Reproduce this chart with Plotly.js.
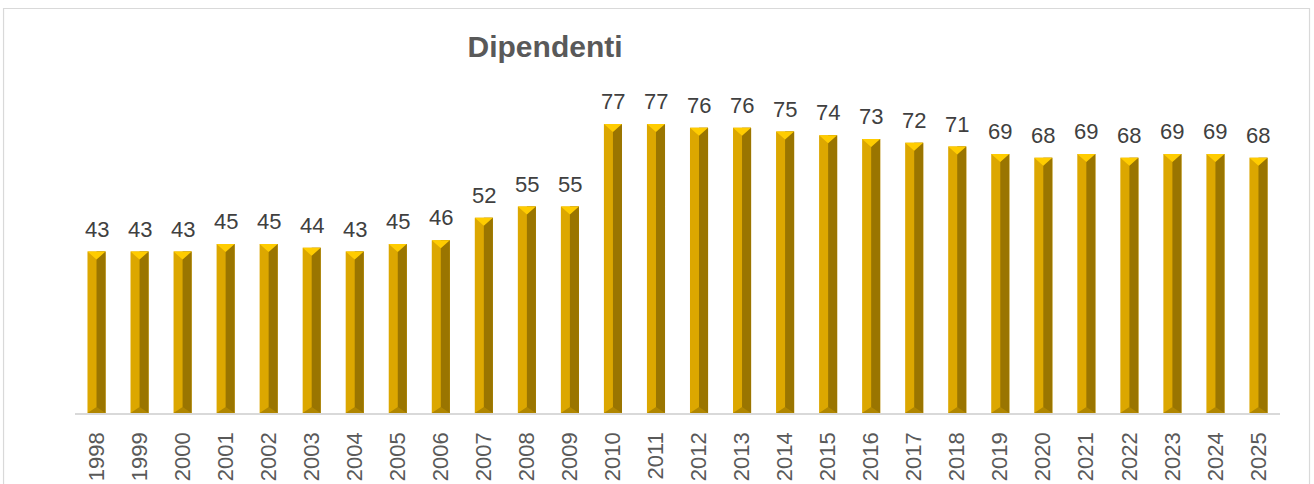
<!DOCTYPE html>
<html>
<head>
<meta charset="utf-8">
<script src="https://cdn.plot.ly/plotly-3.0.1.min.js"></script>
<style>
  html, body { margin: 0; padding: 0; background: #fff; }
  #plotArea { width: 1314px; height: 484px; }
</style>
</head>
<body>
<div id="plotArea"></div>
<script>
var years = ["1998", "1999", "2000", "2001", "2002", "2003", "2004", "2005", "2006", "2007",
  "2008", "2009", "2010", "2011", "2012", "2013", "2014", "2015", "2016", "2017",
  "2018", "2019", "2020", "2021", "2022", "2023", "2024", "2025"];
var dipendenti = [43, 43, 43, 45, 45, 44, 43, 45, 46, 52,
  55, 55, 77, 77, 76, 76, 75, 74, 73, 72,
  71, 69, 68, 69, 68, 69, 69, 68];

// bevel look: half width of a bar (x units) and depth of top/bottom facets (y units)
var half = 0.21;
var topDepth = 2.1;
var bottomDepth = 1.6;

var idx = years.map(function (y, i) {
  return i;
});

// one polygon per bar, separated by nulls so fill "toself" closes each on its own
function facet(build) {
  var xs = [], ys = [];
  idx.forEach(function (i) {
    var pts = build(i, dipendenti[i]);
    pts.forEach(function (p) {
      xs.push(p[0]);
      ys.push(p[1]);
    });
    xs.push(null);
    ys.push(null);
  });
  return { x: xs, y: ys };
}

function polyTrace(pts, color) {
  return {
    x: pts.x,
    y: pts.y,
    type: "scatter",
    mode: "lines",
    fill: "toself",
    fillcolor: color,
    line: { width: 0, color: color },
    hoverinfo: "skip",
    showlegend: false,
  };
}

var base = {
  x: idx,
  y: dipendenti,
  type: "bar",
  width: half * 2,
  marker: { color: "#DCA700", line: { width: 0 } },
  hoverinfo: "x+y",
  showlegend: false,
};

var rightFace = polyTrace(facet(function (c, v) {
  return [[c, 0], [c + half, 0], [c + half, v], [c, v]];
}), "#9A7500");

var bottomFacet = polyTrace(facet(function (c, v) {
  return [[c - half, 0], [c + half, 0], [c, bottomDepth]];
}), "#B08600");

var topFacet = polyTrace(facet(function (c, v) {
  return [[c - half, v], [c + half, v], [c, v - topDepth]];
}), "#FFCC00");

var labels = idx.map(function (i) {
  return {
    x: i,
    y: dipendenti[i],
    text: String(dipendenti[i]),
    showarrow: false,
    xanchor: "center",
    yanchor: "bottom",
    yshift: 8,
    font: { family: "Liberation Sans, Arial, sans-serif", size: 22, color: "#404040" },
  };
});

var layout = {
  width: 1314,
  height: 484,
  margin: { l: 75, r: 34, t: 94, b: 71 },
  paper_bgcolor: "#ffffff",
  plot_bgcolor: "#ffffff",
  title: {
    text: "<b>Dipendenti</b>",
    font: { family: "Liberation Sans, Arial, sans-serif", size: 30, color: "#595959" },
    x: 0.4148,
    xref: "container",
    xanchor: "center",
    y: 0.903,
    yref: "container",
    yanchor: "middle",
  },
  xaxis: {
    type: "linear",
    range: [-0.5, 27.5],
    tickvals: idx,
    ticktext: years,
    tickangle: -90,
    ticks: "outside",
    ticklen: 9,
    tickcolor: "rgba(0,0,0,0)",
    tickfont: { family: "Liberation Sans, Arial, sans-serif", size: 22, color: "#595959" },
    showline: true,
    linecolor: "#D9D9D9",
    linewidth: 1.5,
    showgrid: false,
    zeroline: false,
    fixedrange: true,
  },
  yaxis: {
    range: [0, 85],
    visible: false,
    showgrid: false,
    zeroline: false,
    fixedrange: true,
  },
  annotations: labels,
  shapes: [
    {
      type: "rect",
      xref: "paper",
      yref: "paper",
      x0: -0.0593,
      x1: 1.0245,
      y0: -0.4,
      y1: 1.268,
      line: { color: "#D9D9D9", width: 1.2 },
      fillcolor: "rgba(0,0,0,0)",
      layer: "below",
    },
  ],
  showlegend: false,
};

Plotly.newPlot("plotArea", [base, rightFace, bottomFacet, topFacet], layout, {
  displayModeBar: false,
  staticPlot: true,
});
</script>
</body>
</html>
